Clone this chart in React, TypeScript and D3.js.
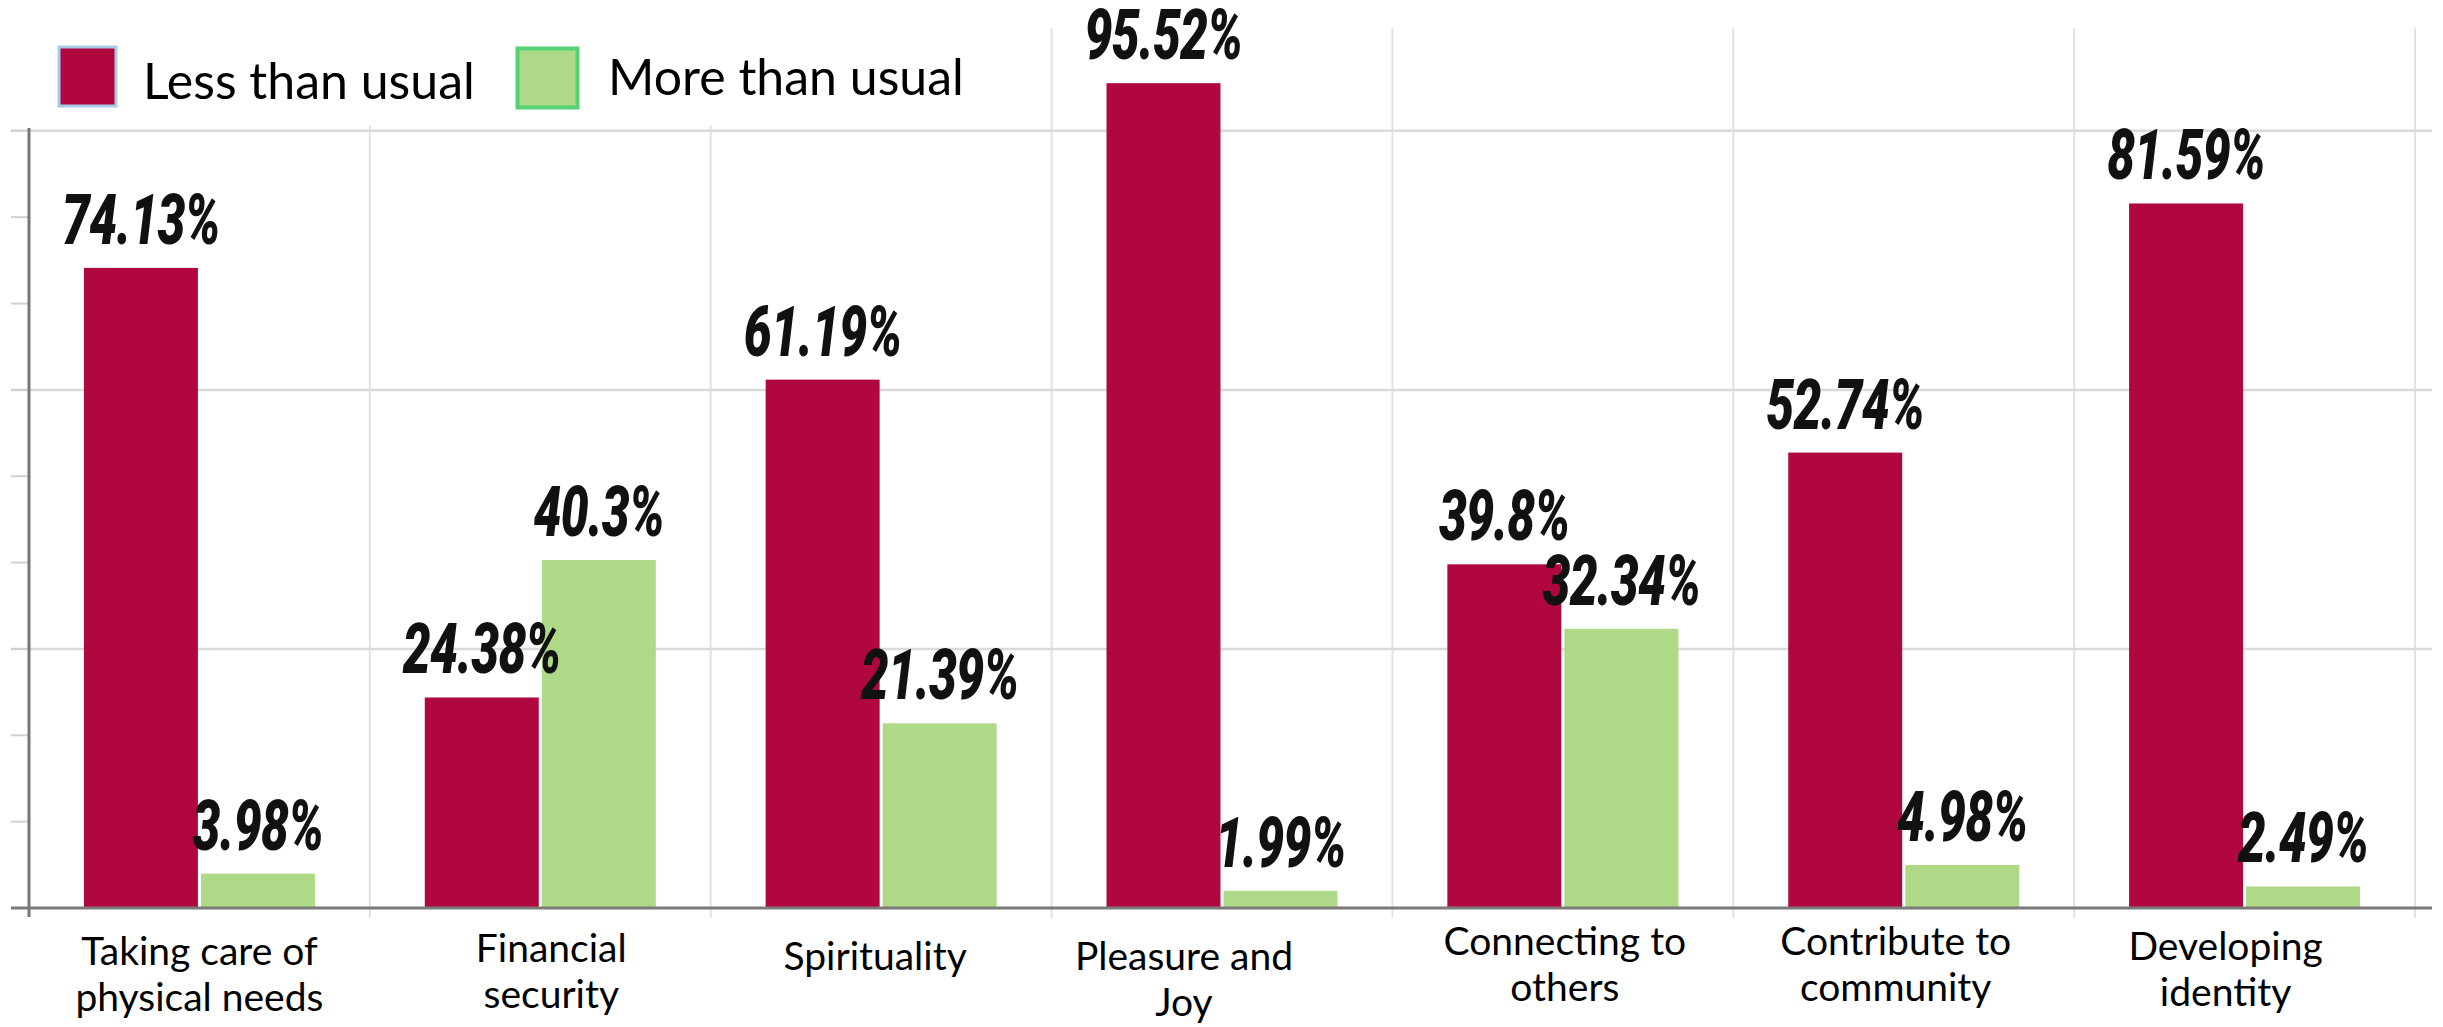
import React from "react";
import * as d3 from "d3";

const categories = [
  "Taking care of physical needs",
  "Financial security",
  "Spirituality",
  "Pleasure and Joy",
  "Connecting to others",
  "Contribute to community",
  "Developing identity",
];
const categoryLines = [
  ["Taking care of", "physical needs"],
  ["Financial", "security"],
  ["Spirituality"],
  ["Pleasure and", "Joy"],
  ["Connecting to", "others"],
  ["Contribute to", "community"],
  ["Developing", "identity"],
];
const seriesNames = ["Less than usual", "More than usual"];
const lessThanUsual = [74.13, 24.38, 61.19, 95.52, 39.8, 52.74, 81.59];
const moreThanUsual = [3.98, 40.3, 21.39, 1.99, 32.34, 4.98, 2.49];
const valueLabels = [
  ["74.13%", "24.38%", "61.19%", "95.52%", "39.8%", "52.74%", "81.59%"],
  ["3.98%", "40.3%", "21.39%", "1.99%", "32.34%", "4.98%", "2.49%"],
];
const yTicks = [10, 20, 30, 40, 50, 60, 70, 80, 90];
const yGrid = [30, 60, 90];

// layout nudges for the category labels (manual text boxes in the original)
const labelDx = [0, 11, -6, -38, 2, -8, -19];
const labelDy = [5, 2, 10, 10, -5, -5, 0];

const W = 2443;
const H = 1027;
const RED = "#B0083E";
const GREEN = "#AED987";

export default function App() {
  const x = d3.scaleBand<string>().domain(categories).range([29, 2415]).padding(0);
  const bw = x.bandwidth();
  const xs = d3
    .scaleBand<string>()
    .domain(seriesNames)
    .range([bw / 2 - 115.5, bw / 2 + 115.5])
    .paddingInner(0.026);
  const y = d3.scaleLinear().domain([0, 100]).range([908, 44.5]);
  const series = [lessThanUsual, moreThanUsual];
  const colors = [RED, GREEN];
  const boundaries = categories.map((c) => (x(c) as number) + bw);

  const valueFont = "Roboto, 'DejaVu Sans', sans-serif";
  const textFont = "Lato, 'Open Sans', sans-serif";

  return (
    <svg
      width={W}
      height={H}
      style={{ position: "absolute", left: 0, top: 0, background: "#fff" }}
    >
      <rect x={0} y={0} width={W} height={H} fill="#fff" />
      {/* vertical grid lines */}
      {boundaries.map((bx, i) => (
        <line key={"v" + i} x1={bx} x2={bx} y1={28} y2={918} stroke="#E2E2E2" strokeWidth={2} />
      ))}
      {/* horizontal grid */}
      {yGrid.map((t) => (
        <line key={"h" + t} x1={11} x2={2432} y1={y(t)} y2={y(t)} stroke="#DADADA" strokeWidth={2.5} />
      ))}
      {/* legend background box */}
      <rect x={0} y={0} width={1000} height={126} fill="#fff" />
      {/* left ticks */}
      {yTicks.map((t) => (
        <line key={"t" + t} x1={11} x2={29} y1={y(t)} y2={y(t)} stroke="#D0D0D0" strokeWidth={2} />
      ))}
      {/* bars */}
      {series.map((vals, si) =>
        vals.map((v, i) => {
          const bx = (x(categories[i]) as number) + (xs(seriesNames[si]) as number);
          return (
            <rect
              key={`b${si}-${i}`}
              x={bx}
              y={y(v)}
              width={xs.bandwidth()}
              height={y(0) - y(v)}
              fill={colors[si]}
            />
          );
        })
      )}
      {/* axes */}
      <line x1={11} x2={2432} y1={y(0)} y2={y(0)} stroke="#7A7A7A" strokeWidth={3} />
      <line x1={29} x2={29} y1={128} y2={917} stroke="#777" strokeWidth={3} />
      {/* value labels */}
      {series.map((vals, si) =>
        vals.map((v, i) => {
          const cx =
            (x(categories[i]) as number) + (xs(seriesNames[si]) as number) + xs.bandwidth() / 2;
          return (
            <g key={`l${si}-${i}`} transform={`translate(${cx},${y(v) - 24}) scale(0.7,1)`}>
              <text
                x={0}
                y={0}
                textAnchor="middle"
                fontFamily={valueFont}
                fontWeight={900}
                fontStyle="italic"
                fontSize={71}
                fill="#111"
                letterSpacing={-1}
              >
                {valueLabels[si][i]}
              </text>
            </g>
          );
        })
      )}
      {/* category labels */}
      {categories.map((c, i) => {
        const cx = (x(c) as number) + bw / 2 + labelDx[i];
        const lines = categoryLines[i];
        return (
          <text
            key={"c" + i}
            textAnchor="middle"
            fontFamily={textFont}
            fontSize={39}
            fill="#000"
          >
            {lines.map((ln, k) => (
              <tspan key={k} x={cx} y={960 + labelDy[i] + k * 46}>
                {ln}
              </tspan>
            ))}
          </text>
        );
      })}
      {/* legend */}
      <rect x={59} y={47} width={57} height={59} fill={RED} stroke="#A9CBEA" strokeWidth={3} />
      <text x={143} y={99} fontFamily={textFont} fontSize={50} fill="#000">
        {seriesNames[0]}
      </text>
      <rect x={517.5} y={48.5} width={60} height={59} fill={GREEN} stroke="#55D276" strokeWidth={4} />
      <text x={608} y={95} fontFamily={textFont} fontSize={50} fill="#000">
        {seriesNames[1]}
      </text>
    </svg>
  );
}
